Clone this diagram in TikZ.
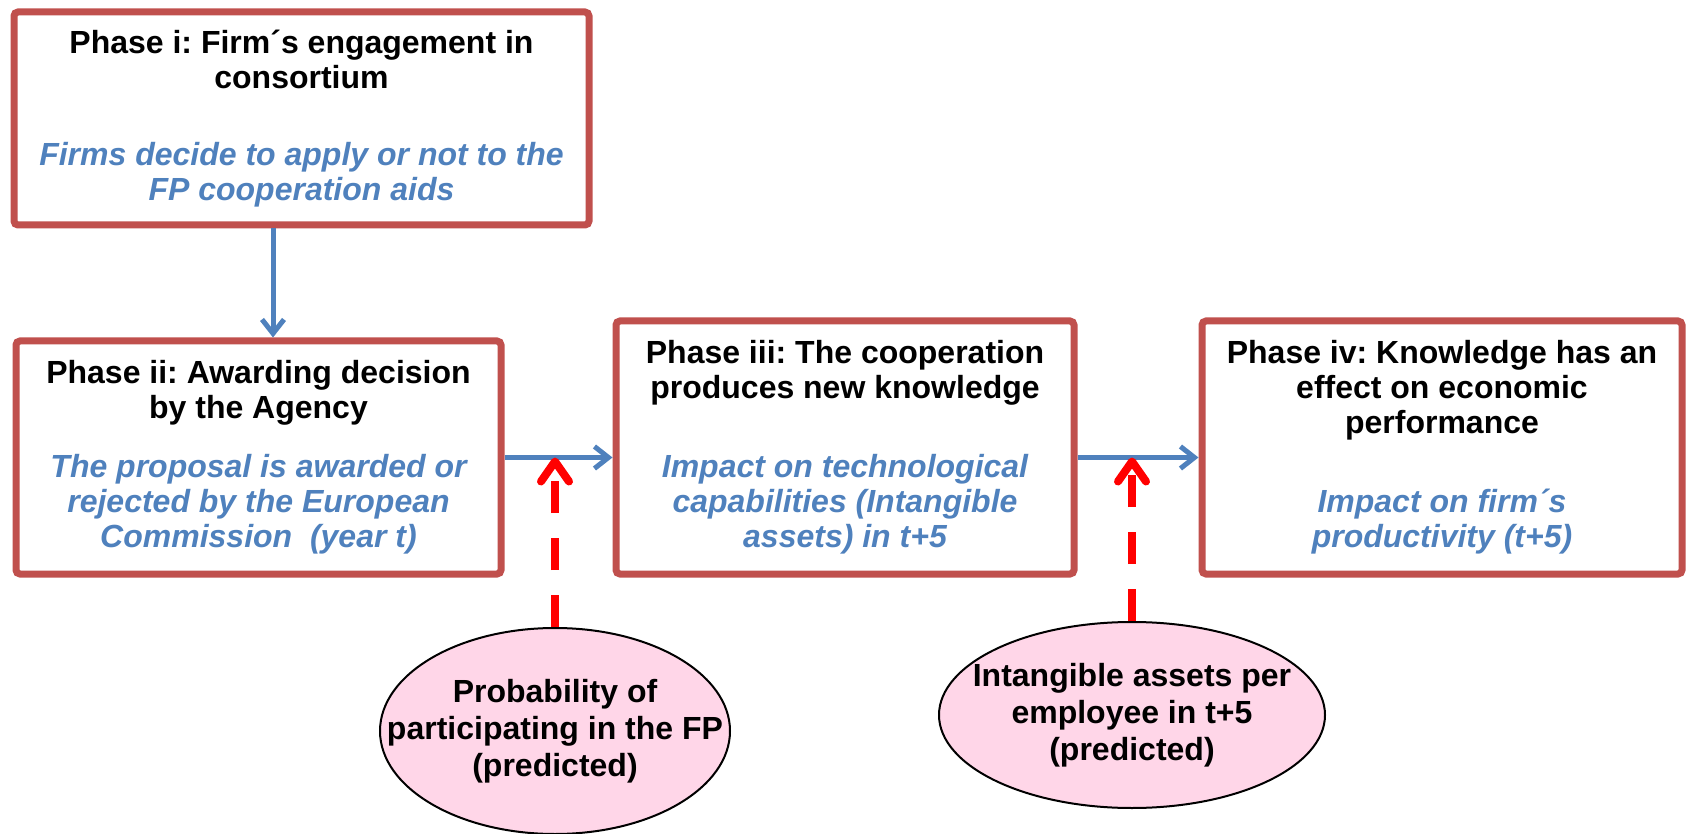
\documentclass[tikz,border=0pt]{standalone}
\usepackage{fontspec}
\setmainfont{Liberation Sans}
\usetikzlibrary{arrows.meta, shapes.geometric}

\definecolor{phasered}{RGB}{192,80,77}
\definecolor{phaseblue}{RGB}{79,129,189}
\definecolor{predpink}{RGB}{255,214,232}

\newcommand{\impact}[1]{{\color{phaseblue}\itshape #1}}

\begin{document}
\begin{tikzpicture}[x=0.5pt, y=-0.5pt,
  phase/.style={draw=phasered, line width=3.5pt, rounded corners=2pt, fill=white, align=center,
    inner sep=0pt, font=\frenchspacing\bfseries\fontsize{16}{17.5}\selectfont},
  pred/.style={ellipse, draw=black, line width=1pt, fill=predpink, inner sep=0pt},
  predtext/.style={align=center, inner sep=0pt, font=\frenchspacing\bfseries\fontsize{16}{18.5}\selectfont},
  flow/.style={draw=phaseblue, line width=2.5pt, -{Straight Barb[length=7pt, width=11pt]}},
  effect/.style={draw=red, line width=4pt, dash pattern=on 16pt off 12.5pt,
    -{Straight Barb[length=10pt, width=14pt, round]}}
]

\useasboundingbox (0,0) rectangle (1687,834);

% the four phases
\node[phase, minimum width=287.5pt, minimum height=106.5pt] (phase1) at (301.5,118.5)
  {Phase i: Firm´s engagement in\\consortium\\[21pt]
   \impact{Firms decide to apply or not to the}\\\impact{FP cooperation aids}};
\node[phase, minimum width=242.5pt, minimum height=116.5pt] (phase2) at (258.5,457.5)
  {Phase ii: Awarding decision\\by the Agency\\[12pt]
   \impact{The proposal is awarded or}\\\impact{rejected by the European}\\\impact{Commission\ \ (year t)}};
\node[phase, minimum width=229pt, minimum height=126.5pt] (phase3) at (845,447.5)
  {Phase iii: The cooperation\\produces new knowledge\\[22pt]
   \impact{Impact on technological}\\\impact{capabilities (Intangible}\\\impact{assets) in t+5}};
\node[phase, minimum width=240pt, minimum height=126.5pt] (phase4) at (1442,447.5)
  {Phase iv: Knowledge has an\\effect on economic\\performance\\[22pt]
   \impact{Impact on firm´s}\\\impact{productivity (t+5)}};

% predicted variables
\node[pred, minimum width=175pt, minimum height=103pt] (partic) at (555,731) {};
\node[predtext] (partictext) at (partic) {Probability of\\participating in the FP\\(predicted)};
\node[pred, minimum width=193pt, minimum height=93pt] (assets) at (1132,715) {};
\node[predtext] (assetstext) at (assets) {Intangible assets per\\employee in t+5\\(predicted)};

\coordinate (downx) at (273,0);
\draw[flow] (phase1.south -| downx) -- (phase2.north -| downx);
\draw[flow] (phase2.east) -- (phase2.east -| phase3.west);
\draw[flow] (phase2.east -| phase3.east) -- (phase2.east -| phase4.west);

\draw[effect] (partic.north) -- (partic.north |- phase2.east);
\draw[effect] (assets.north) -- (assets.north |- phase2.east);

\end{tikzpicture}
\end{document}
